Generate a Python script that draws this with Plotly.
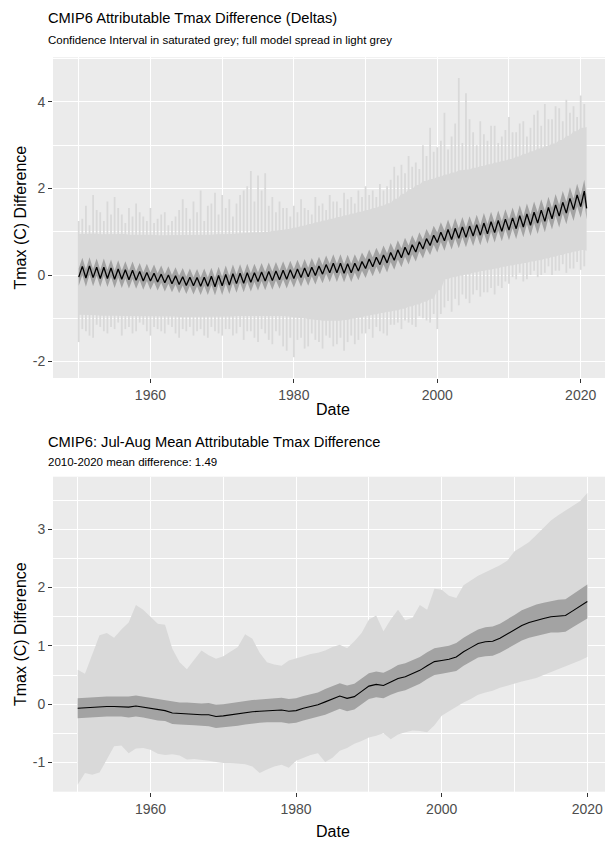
import plotly.graph_objects as go

# ---------------- data ----------------
years = list(range(1950, 2021))

# Top panel: monthly attributable Tmax difference, read at two points per year
# (January trough / July peak of the seasonal cycle)
top_mean_jan = [-0.05, -0.07, -0.06, -0.08, -0.08, -0.10, -0.10, -0.11, -0.12, -0.14,
                -0.14, -0.16, -0.18, -0.20, -0.22, -0.24, -0.25, -0.26, -0.26, -0.27,
                -0.25, -0.23, -0.20, -0.19, -0.17, -0.15, -0.14, -0.13, -0.11, -0.10,
                -0.08, -0.06, -0.04, -0.01, 0.02, 0.05, 0.05, 0.04, 0.05, 0.09,
                0.15, 0.19, 0.24, 0.28, 0.34, 0.40, 0.46, 0.53, 0.60, 0.68,
                0.75, 0.79, 0.82, 0.85, 0.87, 0.90, 0.92, 0.95, 0.98, 1.01,
                1.04, 1.07, 1.11, 1.15, 1.20, 1.24, 1.30, 1.36, 1.43, 1.51, 1.58]
top_mean_jul = [0.20, 0.21, 0.18, 0.18, 0.16, 0.14, 0.12, 0.11, 0.08, 0.06,
                0.04, 0.02, 0.00, -0.02, -0.04, -0.05, -0.06, -0.05, -0.03, -0.01,
                0.01, 0.03, 0.04, 0.05, 0.05, 0.07, 0.08, 0.09, 0.11, 0.12,
                0.14, 0.16, 0.18, 0.21, 0.24, 0.27, 0.27, 0.26, 0.27, 0.31,
                0.37, 0.41, 0.46, 0.52, 0.58, 0.64, 0.70, 0.77, 0.84, 0.92,
                0.99, 1.05, 1.08, 1.11, 1.13, 1.16, 1.20, 1.23, 1.26, 1.29,
                1.32, 1.37, 1.41, 1.45, 1.50, 1.56, 1.62, 1.68, 1.77, 1.85, 1.94]
top_ci_half = [0.20, 0.20, 0.20, 0.20, 0.20, 0.20, 0.20, 0.20, 0.20, 0.20,
               0.20, 0.20, 0.20, 0.20, 0.20, 0.20, 0.20, 0.20, 0.20, 0.20,
               0.21, 0.21, 0.21, 0.21, 0.21, 0.21, 0.21, 0.21, 0.21, 0.21,
               0.21, 0.21, 0.21, 0.21, 0.21, 0.21, 0.21, 0.21, 0.21, 0.21,
               0.22, 0.22, 0.22, 0.22, 0.22, 0.22, 0.22, 0.22, 0.22, 0.22,
               0.23, 0.23, 0.23, 0.23, 0.23, 0.23, 0.23, 0.23, 0.23, 0.23,
               0.24, 0.24, 0.24, 0.25, 0.25, 0.25, 0.25, 0.26, 0.26, 0.26, 0.26]
# full model spread: solid core edges (yearly) and monthly spikes beyond them
top_core_hi = [0.95, 0.95, 0.96, 0.94, 0.95, 0.94, 0.95, 0.93, 0.94, 0.93,
               0.93, 0.92, 0.92, 0.92, 0.92, 0.92, 0.92, 0.92, 0.93, 0.94,
               0.94, 0.95, 0.96, 0.97, 0.98, 0.99, 1.00, 1.02, 1.04, 1.06,
               1.10, 1.14, 1.18, 1.22, 1.26, 1.30, 1.34, 1.38, 1.42, 1.46,
               1.50, 1.55, 1.60, 1.66, 1.76, 1.88, 1.98, 2.08, 2.17, 2.22,
               2.27, 2.32, 2.37, 2.42, 2.44, 2.48, 2.52, 2.56, 2.60, 2.64,
               2.68, 2.74, 2.80, 2.86, 2.92, 2.98, 3.04, 3.12, 3.22, 3.32, 3.40]
top_core_lo = [-0.92, -0.93, -0.93, -0.94, -0.93, -0.94, -0.95, -0.95, -0.95, -0.95,
               -0.96, -0.96, -0.96, -0.96, -0.97, -0.97, -0.97, -0.97, -0.97, -0.96,
               -0.96, -0.96, -0.95, -0.95, -0.95, -0.94, -0.94, -0.94, -0.95, -0.96,
               -0.98, -1.00, -1.02, -1.04, -1.06, -1.06, -1.06, -1.04, -1.01, -0.98,
               -0.94, -0.91, -0.88, -0.85, -0.82, -0.78, -0.73, -0.68, -0.62, -0.55,
               -0.35, -0.10, -0.05, -0.02, 0.02, 0.06, 0.09, 0.12, 0.15, 0.19,
               0.22, 0.25, 0.28, 0.31, 0.34, 0.38, 0.42, 0.46, 0.50, 0.54, 0.58]
top_spike_hi_jan = [1.25, 1.60, 1.85, 1.45, 1.70, 1.80, 1.40, 1.55, 1.65, 1.35,
                    1.55, 1.30, 1.45, 1.25, 1.50, 1.55, 1.70, 1.95, 1.60, 1.90,
                    1.85, 1.75, 1.65, 1.95, 2.40, 2.30, 2.35, 1.80, 1.70, 1.55,
                    1.60, 1.75, 1.50, 1.80, 1.65, 1.85, 1.70, 1.90, 1.80, 1.95,
                    2.05, 1.95, 2.10, 2.05, 2.50, 2.55, 2.75, 2.60, 3.00, 3.40,
                    2.95, 3.75, 3.20, 4.55, 4.20, 3.30, 3.55, 3.10, 3.45, 3.20,
                    3.65, 3.30, 3.55, 3.40, 3.80, 3.95, 3.60, 3.85, 4.05, 3.90, 4.15]
top_spike_hi_jul = [1.30, 1.15, 1.50, 1.25, 1.40, 1.55, 1.20, 1.35, 1.45, 1.25,
                    1.20, 1.40, 1.15, 1.35, 1.75, 1.30, 1.45, 1.25, 1.65, 1.40,
                    1.55, 1.35, 1.85, 2.05, 1.70, 1.95, 1.60, 1.45, 1.55, 1.35,
                    1.45, 1.55, 1.40, 1.60, 1.50, 1.70, 1.55, 1.75, 1.65, 1.80,
                    1.85, 1.80, 1.95, 2.20, 2.30, 2.35, 2.50, 2.45, 2.75, 2.85,
                    3.10, 2.90, 3.50, 3.05, 3.60, 3.00, 3.25, 3.45, 3.05, 3.35,
                    3.30, 3.50, 3.20, 3.70, 3.45, 3.60, 3.90, 3.55, 3.75, 3.65, 3.95]
top_spike_lo_jan = [-1.55, -1.30, -1.45, -1.20, -1.35, -1.25, -1.40, -1.20, -1.30, -1.15,
                    -1.40, -1.25, -1.35, -1.20, -1.45, -1.30, -1.40, -1.25, -1.45, -1.30,
                    -1.40, -1.25, -1.35, -1.50, -1.30, -1.55, -1.35, -1.60, -1.40, -1.75,
                    -1.90, -1.45, -1.65, -1.50, -1.70, -1.45, -1.60, -1.75, -1.40, -1.50,
                    -1.35, -1.45, -1.30, -1.40, -1.15, -1.25, -1.10, -1.20, -1.00, -1.10,
                    -1.25, -0.75, -0.85, -0.70, -0.55, -0.45, -0.50, -0.40, -0.45, -0.30,
                    -0.20, -0.10, -0.15, 0.00, -0.05, 0.05, 0.00, 0.10, 0.05, 0.15, 0.12]
top_spike_lo_jul = [-1.25, -1.40, -1.15, -1.30, -1.20, -1.10, -1.25, -1.35, -1.10, -1.30,
                    -1.20, -1.30, -1.15, -1.35, -1.25, -1.20, -1.30, -1.40, -1.20, -1.35,
                    -1.25, -1.40, -1.20, -1.30, -1.45, -1.25, -1.50, -1.30, -1.65, -1.45,
                    -1.50, -1.70, -1.35, -1.55, -1.40, -1.65, -1.45, -1.55, -1.60, -1.35,
                    -1.25, -1.20, -1.35, -1.15, -1.10, -1.05, -1.15, -0.95, -1.05, -0.90,
                    -0.90, -0.60, -0.55, -0.45, -0.65, -0.35, -0.40, -0.30, -0.25, -0.15,
                    -0.05, 0.05, -0.10, 0.10, 0.00, 0.20, 0.10, 0.25, 0.15, 0.30, 0.20]
top_last_date = 2020.83
top_last_mean = 1.54
top_last_ci_half = 0.26
top_last_core_hi = 3.42
top_last_core_lo = 0.56

# Bottom panel: Jul-Aug yearly mean
jja_mean = [-0.07, -0.06, -0.06, -0.05, -0.04, -0.04, -0.04, -0.05, -0.03, -0.05,
            -0.08, -0.10, -0.11, -0.15, -0.16, -0.16, -0.17, -0.18, -0.18, -0.21,
            -0.20, -0.18, -0.17, -0.15, -0.13, -0.12, -0.11, -0.11, -0.10, -0.12,
            -0.11, -0.07, -0.04, -0.01, 0.04, 0.09, 0.14, 0.10, 0.13, 0.22,
            0.31, 0.34, 0.32, 0.38, 0.44, 0.47, 0.52, 0.58, 0.66, 0.73,
            0.75, 0.77, 0.81, 0.90, 0.97, 1.04, 1.07, 1.08, 1.13, 1.20,
            1.27, 1.35, 1.40, 1.44, 1.47, 1.50, 1.51, 1.52, 1.60, 1.68, 1.76]
jja_ci_half = [0.17, 0.17, 0.17, 0.17, 0.17, 0.17, 0.17, 0.18, 0.18, 0.18,
               0.18, 0.18, 0.18, 0.19, 0.19, 0.19, 0.19, 0.19, 0.20, 0.20,
               0.20, 0.20, 0.20, 0.20, 0.20, 0.20, 0.20, 0.20, 0.21, 0.21,
               0.21, 0.21, 0.21, 0.21, 0.22, 0.22, 0.22, 0.22, 0.22, 0.22,
               0.22, 0.22, 0.22, 0.22, 0.23, 0.23, 0.23, 0.23, 0.23, 0.23,
               0.23, 0.23, 0.24, 0.24, 0.24, 0.24, 0.25, 0.25, 0.25, 0.25,
               0.26, 0.26, 0.26, 0.27, 0.27, 0.27, 0.28, 0.28, 0.28, 0.29, 0.29]
jja_spread_hi = [0.59, 0.52, 0.85, 1.18, 1.22, 1.14, 1.28, 1.40, 1.70, 1.62,
                 1.50, 1.38, 1.36, 0.95, 0.72, 0.60, 0.76, 0.92, 0.84, 0.78,
                 0.82, 0.90, 0.98, 1.20, 1.12, 0.88, 0.72, 0.68, 0.66, 0.75,
                 0.78, 0.82, 0.86, 0.88, 0.92, 0.98, 1.02, 0.96, 1.08, 1.22,
                 1.45, 1.52, 1.25, 1.45, 1.62, 1.44, 1.48, 1.70, 1.62, 1.98,
                 1.96, 1.86, 1.82, 2.04, 2.12, 2.20, 2.26, 2.32, 2.38, 2.46,
                 2.62, 2.70, 2.78, 2.90, 3.02, 3.15, 3.24, 3.32, 3.40, 3.48, 3.62]
jja_spread_lo = [-1.38, -1.18, -1.21, -1.17, -0.95, -0.72, -0.71, -0.84, -0.76, -0.75,
                 -0.78, -0.85, -0.87, -0.86, -0.88, -0.95, -0.94, -0.95, -0.97, -0.99,
                 -1.01, -1.01, -1.02, -1.03, -1.07, -1.18, -1.12, -1.07, -1.04, -1.09,
                 -0.97, -0.92, -0.87, -0.84, -0.99, -0.92, -0.80, -0.75, -0.68, -0.63,
                 -0.57, -0.54, -0.50, -0.60, -0.52, -0.48, -0.45, -0.46, -0.48, -0.36,
                 -0.20, -0.12, -0.04, 0.03, 0.09, 0.16, 0.20, 0.23, 0.28, 0.32,
                 0.36, 0.39, 0.42, 0.45, 0.50, 0.55, 0.60, 0.64, 0.70, 0.75, 0.81]

title_top = "CMIP6 Attributable Tmax Difference (Deltas)"
subtitle_top = "Confidence Interval in saturated grey; full model spread in light grey"
title_bot = "CMIP6: Jul-Aug Mean Attributable Tmax Difference"
subtitle_bot = "2010-2020 mean difference: 1.49"
x_label = "Date"
y_label = "Tmax (C) Difference"
x_ticks = [1960, 1980, 2000, 2020]
y_ticks_top = [-2, 0, 2, 4]
y_ticks_bot = [-1, 0, 1, 2, 3]

# ------------- assemble top-panel series -------------
t_x, t_mean, t_half, c_hi, c_lo = [], [], [], [], []
for i, y in enumerate(years):
    t_x += [y + 0.0, y + 0.5]
    t_mean += [top_mean_jan[i], top_mean_jul[i]]
    t_half += [top_ci_half[i], top_ci_half[i]]
    c_hi += [top_core_hi[i], top_core_hi[i]]
    c_lo += [top_core_lo[i], top_core_lo[i]]
t_x.append(top_last_date)
t_mean.append(top_last_mean)
t_half.append(top_last_ci_half)
c_hi.append(top_last_core_hi)
c_lo.append(top_last_core_lo)
t_ci_lo = [m - h for m, h in zip(t_mean, t_half)]
t_ci_hi = [m + h for m, h in zip(t_mean, t_half)]

# spikes as vertical segments (one per month read)
s_x, s_y = [], []
for i, y in enumerate(years):
    for dx, lo, hi in ((0.0, top_spike_lo_jan[i], top_spike_hi_jan[i]),
                       (0.5, top_spike_lo_jul[i], top_spike_hi_jul[i])):
        s_x += [y + dx, y + dx, None]
        s_y += [lo, hi, None]

b_ci_lo = [m - h for m, h in zip(jja_mean, jja_ci_half)]
b_ci_hi = [m + h for m, h in zip(jja_mean, jja_ci_half)]

# ------------- styling -------------
W, H = 605, 844
ML = 53
LIGHT = "#D9D9D9"
DARK = "#A3A3A3"
FONT = "Liberation Sans"


def py(px):
    return 1 - px / H


def pxx(px):
    return (px - ML) / (W - ML)


fig = go.Figure()


def band(x, lo, hi, color, xa, ya):
    fig.add_trace(go.Scatter(x=x, y=lo, mode="lines", line=dict(width=0), hoverinfo="skip",
                             showlegend=False, xaxis=xa, yaxis=ya))
    fig.add_trace(go.Scatter(x=x, y=hi, mode="lines", line=dict(width=0), fill="tonexty",
                             fillcolor=color, hoverinfo="skip", showlegend=False, xaxis=xa, yaxis=ya))


fig.add_trace(go.Scatter(x=s_x, y=s_y, mode="lines", line=dict(color=LIGHT, width=1.8),
                         hoverinfo="skip", showlegend=False, xaxis="x", yaxis="y"))
band(t_x, c_lo, c_hi, LIGHT, "x", "y")
band(t_x, t_ci_lo, t_ci_hi, DARK, "x", "y")
fig.add_trace(go.Scatter(x=t_x, y=t_mean, mode="lines", line=dict(color="black", width=1.3),
                         showlegend=False, xaxis="x", yaxis="y"))

band(years, jja_spread_lo, jja_spread_hi, LIGHT, "x2", "y2")
band(years, b_ci_lo, b_ci_hi, DARK, "x2", "y2")
fig.add_trace(go.Scatter(x=years, y=jja_mean, mode="lines", line=dict(color="black", width=1.1),
                         showlegend=False, xaxis="x2", yaxis="y2"))

axis_common = dict(
    showgrid=True, gridcolor="white", gridwidth=1.1, zeroline=False, automargin=False,
    ticks="outside", ticklen=4, tickwidth=1, tickcolor="#333333",
    tickfont=dict(family=FONT, size=14, color="#4D4D4D"),
    showline=False, tickmode="array",
)


def minor(d, t0):
    return dict(tickmode="linear", dtick=d, tick0=t0, gridcolor="white", gridwidth=0.5,
                showgrid=True, ticks="")


fig.update_layout(
    width=W, height=H,
    margin=dict(l=ML, r=0, t=0, b=0),
    paper_bgcolor="white", plot_bgcolor="#EBEBEB",
    font=dict(family=FONT, color="black"),
    xaxis=dict(domain=[0, 1], anchor="y", range=[1946.41, 2023.39],
               tickvals=x_ticks, ticktext=[str(v) for v in x_ticks],
               minor=minor(10, 1950), **axis_common),
    yaxis=dict(domain=[py(378), py(57.3)], anchor="x", range=[-2.38, 5.03],
               tickvals=y_ticks_top, ticktext=[str(v) for v in y_ticks_top],
               minor=minor(1, 0), **axis_common),
    xaxis2=dict(domain=[0, 1], anchor="y2", range=[1946.61, 2022.43],
                tickvals=x_ticks, ticktext=[str(v) for v in x_ticks],
                minor=minor(10, 1950), **axis_common),
    yaxis2=dict(domain=[py(791.7), py(476.7)], anchor="x2", range=[-1.50, 3.90],
                tickvals=y_ticks_bot, ticktext=[str(v) for v in y_ticks_bot],
                minor=minor(0.5, 0), **axis_common),
)

ann = []


def text(s, x, y, size, anchor="left", angle=0, color="black"):
    ann.append(dict(text=s, x=pxx(x), y=py(y), xref="paper", yref="paper", showarrow=False,
                    xanchor=anchor, yanchor="middle", textangle=angle,
                    font=dict(family=FONT, size=size, color=color)))


text(title_top, 46, 18, 14.7)
text(subtitle_top, 46, 40, 11.5)
text(x_label, 333, 410, 16, anchor="center")
text(y_label, 20, 217.5, 16, anchor="center", angle=-90)
text(title_bot, 46, 442, 14.7)
text(subtitle_bot, 46, 462, 11.5)
text(x_label, 333, 831, 16, anchor="center")
text(y_label, 20, 634, 16, anchor="center", angle=-90)
fig.update_layout(annotations=ann)

fig.write_html("out.html", config={"displayModeBar": False},
               post_script="document.body.style.margin='0';")
